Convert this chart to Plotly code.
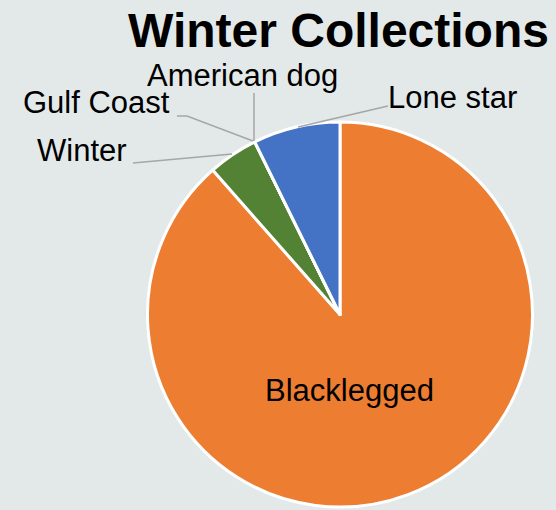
import plotly.graph_objects as go

species = ["Blacklegged", "Winter", "Gulf Coast", "American dog", "Lone star"]
values = [88.5, 4.2, 0, 0, 7.3]
colors = ["#ED7D31", "#548235", "#A5A5A5", "#FFC000", "#4472C4"]

W, H = 556, 510
BG = "#e3e9e9"
FONT = "Liberation Sans, Arial, sans-serif"

def px(x):
    return x / W

def py(y):
    return 1 - y / H

cx, cy, r = 340, 314.5, 192.5

fig = go.Figure(go.Pie(
    labels=species,
    values=values,
    sort=False,
    direction="clockwise",
    rotation=0,
    marker=dict(colors=colors, line=dict(color="white", width=3)),
    textinfo="none",
    hoverinfo="label+value",
    showlegend=False,
    domain=dict(x=[px(cx - r), px(cx + r)], y=[py(cy + r), py(cy - r)]),
))

labels_pos = {
    "Blacklegged": (349, 390),
    "Winter": (82, 150),
    "Gulf Coast": (96, 103),
    "American dog": (242, 75),
    "Lone star": (452, 97),
}
for name, (x, y) in labels_pos.items():
    fig.add_annotation(x=px(x), y=py(y), xref="paper", yref="paper",
                       text=name, showarrow=False,
                       font=dict(family=FONT, size=31, color="black"),
                       xanchor="center", yanchor="middle")

leaders = [
    [(133, 163), (232, 154)],
    [(177, 116), (187, 116), (253, 141)],
    [(254, 93), (254, 141)],
    [(298, 127), (388, 106)],
]
for pts in leaders:
    path = "M " + " L ".join(f"{px(x)},{py(y)}" for x, y in pts)
    fig.add_shape(type="path", path=path, xref="paper", yref="paper",
                  line=dict(color="#a6a6a6", width=1.5))

fig.add_annotation(x=px(338), y=py(30), xref="paper", yref="paper",
                   text="<b>Winter Collections</b>", showarrow=False,
                   font=dict(family=FONT, size=48, color="black"),
                   xanchor="center", yanchor="middle")

fig.update_layout(
    width=W, height=H,
    margin=dict(l=0, r=0, t=0, b=0),
    paper_bgcolor=BG, plot_bgcolor=BG,
)

fig.write_html(
    "out.html",
    config={"displayModeBar": False},
    post_script=(
        "document.documentElement.style.margin='0';"
        "document.body.style.margin='0';"
        "document.body.style.overflow='hidden';"
        f"document.body.style.background='{BG}';"
    ),
)
